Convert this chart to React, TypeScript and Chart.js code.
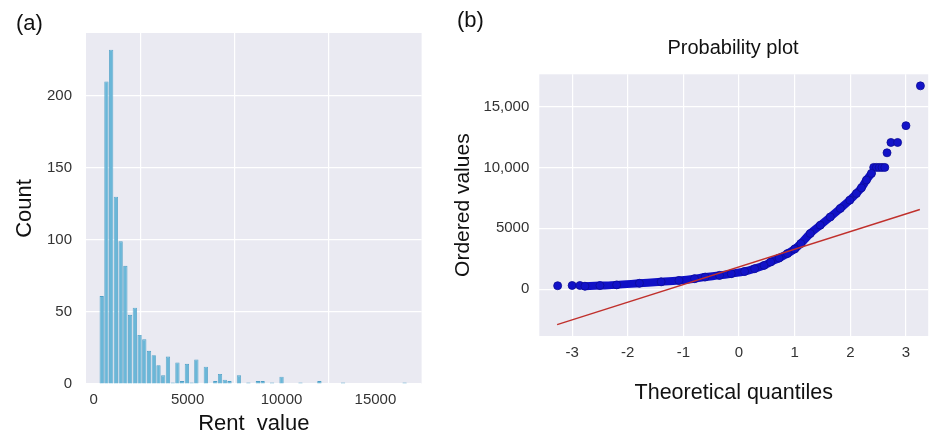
import React, { useEffect, useRef } from "react";
import { Chart, registerables } from "chart.js";
Chart.register(...registerables);

// ---------- (a) Histogram of rent values ----------
const BIN_START = 300;
const BIN_WIDTH = 252;
const COUNTS = [
  61, 210, 232, 130, 99, 82, 48, 53, 34, 31, 23, 20, 13, 6, 19, 1, 15, 2, 14, 1,
  17, 0, 12, 0, 2, 7, 3, 2, 0, 6, 0, 1, 0, 2, 2, 0, 1, 0, 5, 0,
  0, 0, 1, 0, 0, 0, 2, 0, 0, 0, 0, 1, 0, 0, 0, 0, 0, 0, 0, 0,
  0, 0, 0, 0, 1,
];
const HIST_X_TICKS = [0, 5000, 10000, 15000];
const HIST_Y_TICKS = [0, 50, 100, 150, 200];

// ---------- (b) Probability plot ----------
const QQ_BAND_X = [-2.77, -2.5, -2.2, -1.79, -1.4, -1.08, -0.8, -0.61, -0.35, -0.14, 0.1, 0.28, 0.45, 0.57, 0.72, 0.87, 1.0, 1.11, 1.28, 1.46, 1.64, 1.82, 1.99, 2.11, 2.2, 2.29, 2.38];
const QQ_BAND_Y = [240, 290, 350, 480, 600, 715, 860, 990, 1130, 1270, 1450, 1680, 1950, 2230, 2550, 2920, 3300, 3740, 4570, 5250, 5930, 6630, 7310, 7860, 8320, 8960, 9510];
const QQ_TAIL_X = [-3.26, -3.0, -2.86, 2.42, 2.47, 2.52, 2.57, 2.62, 2.66, 2.73, 2.85, 3.0, 3.26];
const QQ_TAIL_Y = [280, 300, 300, 10000, 10000, 10000, 10000, 10000, 11200, 12050, 12050, 13430, 16700];
const FIT_X = [-3.27, 3.25];
const FIT_Y = [-2910, 6540];
const QQ_X_TICKS = [-3, -2, -1, 0, 1, 2, 3];
const QQ_Y_TICKS = [0, 5000, 10000, 15000];
const QQ_Y_LABELS = ["0", "5000", "10,000", "15,000"];

const FONT = "'Liberation Sans', Arial, Helvetica, sans-serif";
const BG = "#eaeaf2";

const bgPlugin = {
  id: "plotBg",
  beforeDraw(chart: any) {
    const { ctx, chartArea: a } = chart;
    ctx.save();
    ctx.fillStyle = BG;
    ctx.fillRect(a.left, a.top, a.right - a.left, a.bottom - a.top);
    ctx.restore();
  },
};

const gridOpts = { color: "#ffffff", lineWidth: 1.2, drawTicks: false };

export default function App() {
  const leftRef = useRef<HTMLCanvasElement | null>(null);
  const rightRef = useRef<HTMLCanvasElement | null>(null);

  useEffect(() => {
    document.body.style.margin = "0";
    document.body.style.overflow = "hidden";

    const histData = COUNTS.map((c, i) => ({ x: BIN_START + (i + 0.5) * BIN_WIDTH, y: c }));

    const left = new Chart(leftRef.current as HTMLCanvasElement, {
      type: "bar",
      data: {
        datasets: [
          {
            data: histData,
            backgroundColor: "#6ab7d8",
            borderColor: "#4f9fc6",
            borderWidth: 0.8,
            barPercentage: 0.9,
            categoryPercentage: 1,
          } as any,
        ],
      },
      options: {
        responsive: false,
        animation: false,
        layout: { padding: { top: 33, right: 18.4, left: 0, bottom: 0 } },
        plugins: { legend: { display: false }, tooltip: { enabled: false } },
        scales: {
          x: {
            type: "linear",
            min: -410,
            max: 17460,
            offset: false,
            grid: gridOpts,
            border: { display: false },
            afterBuildTicks: (s: any) => {
              s.ticks = HIST_X_TICKS.map((v) => ({ value: v }));
            },
            afterFit: (s: any) => {
              s.height = 54;
            },
            ticks: {
              autoSkip: false,
              maxRotation: 0,
              padding: 7,
              color: "#333333",
              font: { family: FONT, size: 15 },
              callback: (v: any) => String(v),
            },
            title: {
              display: true,
              text: "Rent  value",
              color: "#111111",
              font: { family: FONT, size: 22 },
              padding: { top: 0, bottom: 0.5 },
            },
          },
          y: {
            type: "linear",
            min: 0,
            max: 243.6,
            grid: gridOpts,
            border: { display: false },
            afterBuildTicks: (s: any) => {
              s.ticks = HIST_Y_TICKS.map((v) => ({ value: v }));
            },
            afterFit: (s: any) => {
              s.width = 86;
            },
            ticks: {
              autoSkip: false,
              padding: 14,
              color: "#333333",
              font: { family: FONT, size: 15 },
              callback: (v: any) => String(v),
            },
            title: {
              display: true,
              text: "Count",
              color: "#111111",
              font: { family: FONT, size: 22 },
              padding: { top: 12, bottom: 0 },
            },
          },
        },
      } as any,
      plugins: [bgPlugin],
    });

    const right = new Chart(rightRef.current as HTMLCanvasElement, {
      type: "scatter",
      data: {
        datasets: [
          {
            type: "line",
            data: FIT_X.map((x, i) => ({ x, y: FIT_Y[i] })),
            borderColor: "#c0302c",
            borderWidth: 1.4,
            pointRadius: 0,
            order: 0,
          } as any,
          {
            type: "line",
            data: QQ_BAND_X.map((x, i) => ({ x, y: QQ_BAND_Y[i] })),
            borderColor: "#1010c6",
            borderWidth: 8,
            borderCapStyle: "round",
            cubicInterpolationMode: "monotone",
            pointRadius: 4,
            pointBackgroundColor: "#1212c8",
            pointBorderColor: "#0c0c96",
            pointBorderWidth: 0.8,
            order: 1,
          } as any,
          {
            data: QQ_TAIL_X.map((x, i) => ({ x, y: QQ_TAIL_Y[i] })),
            showLine: false,
            pointRadius: 4,
            backgroundColor: "#1212c8",
            borderColor: "#0c0c96",
            borderWidth: 0.8,
            order: 2,
          } as any,
        ],
      },
      options: {
        responsive: false,
        animation: false,
        layout: { padding: { top: 74.3, right: 0, left: 0, bottom: 0 } },
        plugins: { legend: { display: false }, tooltip: { enabled: false } },
        scales: {
          x: {
            type: "linear",
            min: -3.59,
            max: 3.4,
            grid: gridOpts,
            border: { display: false },
            afterBuildTicks: (s: any) => {
              s.ticks = QQ_X_TICKS.map((v) => ({ value: v }));
            },
            afterFit: (s: any) => {
              s.height = 102;
            },
            ticks: {
              autoSkip: false,
              maxRotation: 0,
              padding: 8.3,
              color: "#333333",
              font: { family: FONT, size: 15 },
              callback: (v: any) => String(v),
            },
            title: {
              display: true,
              text: "Theoretical quantiles",
              color: "#111111",
              font: { family: FONT, size: 21.5 },
              padding: { top: 0, bottom: 31.8 },
            },
          },
          y: {
            type: "linear",
            min: -3850,
            max: 17650,
            grid: gridOpts,
            border: { display: false },
            afterBuildTicks: (s: any) => {
              s.ticks = QQ_Y_TICKS.map((v) => ({ value: v }));
            },
            afterFit: (s: any) => {
              s.width = 99.3;
            },
            ticks: {
              autoSkip: false,
              padding: 10,
              color: "#333333",
              font: { family: FONT, size: 15 },
              callback: (v: any) => {
                const i = QQ_Y_TICKS.indexOf(Number(v));
                return i >= 0 ? QQ_Y_LABELS[i] : "";
              },
            },
            title: {
              display: true,
              text: "Ordered values",
              color: "#111111",
              font: { family: FONT, size: 21 },
              padding: { top: 10.4, bottom: 0 },
            },
          },
        },
      } as any,
      plugins: [bgPlugin],
    });

    return () => {
      left.destroy();
      right.destroy();
    };
  }, []);

  const textStyle: React.CSSProperties = {
    position: "absolute",
    fontFamily: FONT,
    color: "#111111",
    whiteSpace: "nowrap",
  };

  return (
    <div style={{ position: "absolute", left: 0, top: 0, width: 933, height: 438, background: "#ffffff", overflow: "hidden" }}>
      <canvas ref={leftRef} width={440} height={438} style={{ position: "absolute", left: 0, top: 0, width: 440, height: 438 }} />
      <canvas ref={rightRef} width={493} height={438} style={{ position: "absolute", left: 440, top: 0, width: 493, height: 438 }} />
      <div style={{ ...textStyle, left: 16, top: 12, fontSize: 22, lineHeight: "22px" }}>(a)</div>
      <div style={{ ...textStyle, left: 457, top: 9, fontSize: 22, lineHeight: "22px" }}>(b)</div>
      <div style={{ ...textStyle, left: 633, top: 37, width: 200, textAlign: "center", fontSize: 20, lineHeight: "20px" }}>Probability plot</div>
    </div>
  );
}
